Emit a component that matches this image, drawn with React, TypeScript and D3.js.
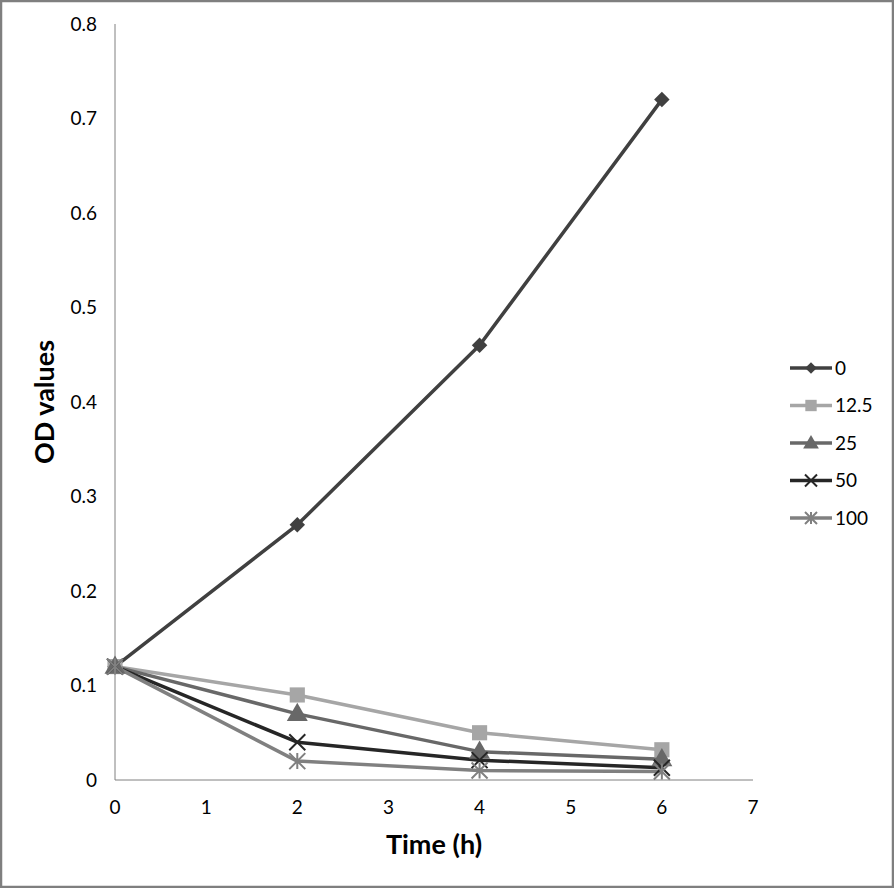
import React, { useEffect, useRef } from "react";
import * as d3 from "d3";

const times = [0, 2, 4, 6];
const seriesNames = ["0", "12.5", "25", "50", "100"];
const values0 = [0.12, 0.27, 0.46, 0.72];
const values125 = [0.12, 0.09, 0.05, 0.032];
const values25 = [0.12, 0.07, 0.03, 0.022];
const values50 = [0.12, 0.04, 0.021, 0.013];
const values100 = [0.12, 0.02, 0.01, 0.009];
const xTicks = [0, 1, 2, 3, 4, 5, 6, 7];
const yTicks = [0, 0.1, 0.2, 0.3, 0.4, 0.5, 0.6, 0.7, 0.8];

const seriesValues = [values0, values125, values25, values50, values100];
const colors = ["#404040", "#a6a6a6", "#686868", "#262626", "#808080"];
const markers = ["diamond", "square", "triangle", "x", "star"];

const FONT = "Lato, 'Open Sans', sans-serif";

function drawMarker(
  g: d3.Selection<SVGGElement, unknown, null, undefined>,
  kind: string,
  cx: number,
  cy: number,
  color: string,
  scale = 1
) {
  if (kind === "diamond") {
    g.append("path")
      .attr("d", d3.symbol(d3.symbolSquare, 120 * scale * scale)())
      .attr("transform", `translate(${cx},${cy}) rotate(45)`)
      .attr("fill", color);
  } else if (kind === "square") {
    g.append("path")
      .attr("d", d3.symbol(d3.symbolSquare, 230 * scale * scale)())
      .attr("transform", `translate(${cx},${cy})`)
      .attr("fill", color);
  } else if (kind === "triangle") {
    g.append("path")
      .attr("d", d3.symbol(d3.symbolTriangle, 190 * scale * scale)())
      .attr("transform", `translate(${cx},${cy + 1})`)
      .attr("fill", color);
  } else if (kind === "x") {
    const r = 8 * scale;
    g.append("path")
      .attr("d", `M${cx - r},${cy - r}L${cx + r},${cy + r}M${cx - r},${cy + r}L${cx + r},${cy - r}`)
      .attr("stroke", color)
      .attr("stroke-width", 2);
  } else {
    const r = 8 * scale;
    g.append("path")
      .attr(
        "d",
        `M${cx - r},${cy - r}L${cx + r},${cy + r}M${cx - r},${cy + r}L${cx + r},${cy - r}M${cx},${cy - r}L${cx},${cy + r}`
      )
      .attr("stroke", color)
      .attr("stroke-width", 2);
  }
}

const App: React.FC = () => {
  const ref = useRef<SVGSVGElement | null>(null);

  useEffect(() => {
    if (!ref.current) return;
    const width = 894,
      height = 888;
    const margin = { top: 24, right: 141, bottom: 108, left: 115 };
    const svg = d3.select(ref.current).attr("width", width).attr("height", height);
    svg.selectAll("*").remove();

    svg.append("rect")
      .attr("x", 1)
      .attr("y", 1)
      .attr("width", width - 2)
      .attr("height", height - 2)
      .attr("fill", "#fff")
      .attr("stroke", "#7f7f7f")
      .attr("stroke-width", 2.5);

    const x = d3.scaleLinear().domain([0, 7]).range([margin.left, width - margin.right]);
    const y = d3.scaleLinear().domain([0, 0.8]).range([height - margin.bottom, margin.top]);

    // axes lines
    svg.append("line")
      .attr("x1", x(0)).attr("x2", x(0))
      .attr("y1", y(0)).attr("y2", y(0.8))
      .attr("stroke", "#808080").attr("stroke-width", 1);
    svg.append("line")
      .attr("x1", x(0)).attr("x2", x(7))
      .attr("y1", y(0)).attr("y2", y(0))
      .attr("stroke", "#808080").attr("stroke-width", 1);

    svg.append("g")
      .selectAll("text")
      .data(yTicks)
      .join("text")
      .attr("x", x(0) - 18)
      .attr("y", (d) => y(d))
      .attr("dy", "0.35em")
      .attr("text-anchor", "end")
      .attr("font-family", FONT)
      .attr("font-size", 19)
      .text((d) => (d === 0 ? "0" : d3.format(".1f")(d)));

    svg.append("g")
      .selectAll("text")
      .data(xTicks)
      .join("text")
      .attr("x", (d) => x(d))
      .attr("y", y(0) + 34)
      .attr("text-anchor", "middle")
      .attr("font-family", FONT)
      .attr("font-size", 19)
      .text((d) => String(d));

    svg.append("text")
      .attr("x", (x(0) + x(7)) / 2)
      .attr("y", 854)
      .attr("text-anchor", "middle")
      .attr("font-family", FONT)
      .attr("font-weight", "bold")
      .attr("font-size", 27)
      .text("Time (h)");

    svg.append("text")
      .attr("transform", `translate(54,${(y(0) + y(0.8)) / 2}) rotate(-90)`)
      .attr("text-anchor", "middle")
      .attr("font-family", FONT)
      .attr("font-weight", "bold")
      .attr("font-size", 27)
      .text("OD values");

    const line = d3
      .line<number>()
      .x((_, i) => x(times[i]))
      .y((d) => y(d));

    const plot = svg.append("g");
    seriesValues.forEach((vals, si) => {
      plot.append("path")
        .datum(vals)
        .attr("fill", "none")
        .attr("stroke", colors[si])
        .attr("stroke-width", 3.5)
        .attr("stroke-linejoin", "round")
        .attr("d", line);
    });
    seriesValues.forEach((vals, si) => {
      const mg = plot.append("g");
      vals.forEach((v, i) => drawMarker(mg, markers[si], x(times[i]), y(v), colors[si]));
    });

    // legend
    const legend = svg.append("g");
    seriesNames.forEach((name, i) => {
      const ly = 368 + i * 37.5;
      legend.append("line")
        .attr("x1", 790).attr("x2", 832)
        .attr("y1", ly).attr("y2", ly)
        .attr("stroke", colors[i])
        .attr("stroke-width", 3.5);
      drawMarker(legend, markers[i], 811, ly, colors[i], 0.75);
      legend.append("text")
        .attr("x", 835)
        .attr("y", ly)
        .attr("dy", "0.35em")
        .attr("font-family", FONT)
        .attr("font-size", 19)
        .text(name);
    });
  }, []);

  return (
    <svg
      ref={ref}
      width={894}
      height={888}
      style={{ position: "absolute", left: 0, top: 0 }}
    />
  );
};

export default App;
